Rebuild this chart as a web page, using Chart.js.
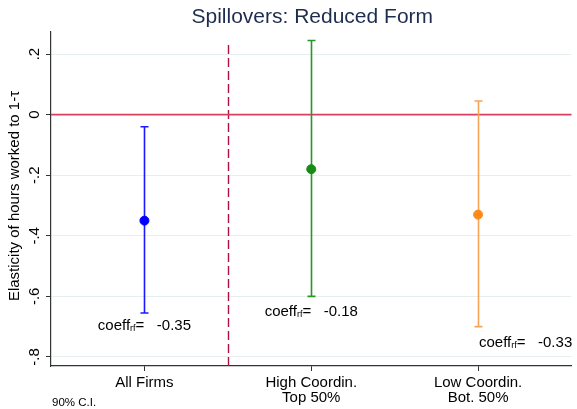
<!DOCTYPE html>
<html>
<head>
<meta charset="utf-8">
<script src="https://cdn.jsdelivr.net/npm/chart.js@4/dist/chart.umd.min.js"></script>
<style>
    body { margin: 0; background: #fff; }
    #wrap { width: 577px; height: 409px; }
</style>
</head>
<body>
<div id="wrap"><canvas id="spillChart" width="577" height="409"></canvas></div>
<script>
const categories = ["All Firms", ["High Coordin.", "Top 50%"], ["Low Coordin.", "Bot. 50%"]];
const coeffs = [-0.35, -0.18, -0.33];
const ciLow = [-0.655, -0.60, -0.70];
const ciHigh = [-0.04, 0.245, 0.045];
const yTicks = [0.2, 0, -0.2, -0.4, -0.6, -0.8];
const yTickLabels = [".2", "0", "-.2", "-.4", "-.6", "-.8"];

const markerColors = ["#0000ff", "#168c16", "#ff8a1c"];
const whiskerColors = ["#1a1aff", "#2a962a", "#f5a458"];
// where the coeff labels sit (x offset in category units, y in data units)
const labelX = [0, 0, 0.285];
const labelY = [-0.697, -0.65, -0.753];

const font = "'Liberation Sans', Arial, sans-serif";
const xs = coeffs.map((c, i) => i + 1);

const extras = {
    id: "extras",
    beforeDatasetsDraw(chart) {
        const { ctx, chartArea, scales: { x, y } } = chart;
        ctx.save();
        // dashed divider
        ctx.strokeStyle = "#b01040";
        ctx.lineWidth = 1.4;
        ctx.setLineDash([9, 4]);
        ctx.beginPath();
        ctx.moveTo(Math.round(x.getPixelForValue(1.5)) + 0.5, chartArea.top + 13);
        ctx.lineTo(Math.round(x.getPixelForValue(1.5)) + 0.5, chartArea.bottom);
        ctx.stroke();
        ctx.setLineDash([]);

        // zero line
        ctx.strokeStyle = "#d8405f";
        ctx.lineWidth = 1.6;
        ctx.beginPath();
        ctx.moveTo(chartArea.left, y.getPixelForValue(0));
        ctx.lineTo(chartArea.right, y.getPixelForValue(0));
        ctx.stroke();

        // confidence intervals
        xs.forEach((v, i) => {
            const px = Math.round(x.getPixelForValue(v)) + 0.5;
            const top = y.getPixelForValue(ciHigh[i]);
            const bot = y.getPixelForValue(ciLow[i]);
            ctx.strokeStyle = whiskerColors[i];
            ctx.lineWidth = 1.6;
            ctx.beginPath();
            ctx.moveTo(px, top);
            ctx.lineTo(px, bot);
            ctx.moveTo(px - 4, top);
            ctx.lineTo(px + 4, top);
            ctx.moveTo(px - 4, bot);
            ctx.lineTo(px + 4, bot);
            ctx.stroke();
        });
        ctx.restore();
    },
    afterDraw(chart) {
        const { ctx, chartArea, scales: { x, y } } = chart;
        ctx.save();
        ctx.fillStyle = "#000";

        // y tick labels, rotated
        ctx.font = "15px " + font;
        ctx.textAlign = "center";
        ctx.textBaseline = "middle";
        yTicks.forEach((t, i) => {
            ctx.save();
            ctx.translate(35, y.getPixelForValue(t));
            ctx.rotate(-Math.PI / 2);
            ctx.fillText(yTickLabels[i], 0, 0);
            ctx.restore();
        });

        // y axis title
        ctx.save();
        ctx.translate(15, (chartArea.top + chartArea.bottom) / 2 - 3);
        ctx.rotate(-Math.PI / 2);
        ctx.fillText("Elasticity of hours worked to 1-\u03c4", 0, 0);
        ctx.restore();

        // title
        ctx.fillStyle = "#1e2d4f";
        ctx.font = "21px " + font;
        ctx.fillText("Spillovers: Reduced Form", (chartArea.left + chartArea.right) / 2 + 1, 17);

        // coefficient labels
        ctx.fillStyle = "#000";
        ctx.textAlign = "left";
        xs.forEach((v, i) => {
            const parts = [
                ["coeff", "15px", 0],
                ["rf", "9px", 3],
                ["=   " + coeffs[i].toFixed(2), "15px", 0]
            ];
            let w = 0;
            parts.forEach(p => { ctx.font = p[1] + " " + font; w += ctx.measureText(p[0]).width; });
            let px = x.getPixelForValue(v + labelX[i]) - w / 2;
            const py = y.getPixelForValue(labelY[i]);
            parts.forEach(p => {
                ctx.font = p[1] + " " + font;
                ctx.fillText(p[0], px, py + p[2]);
                px += ctx.measureText(p[0]).width;
            });
        });

        // note
        ctx.font = "11.5px " + font;
        ctx.fillText("90% C.I.", 52, 403);
        ctx.restore();
    }
};

new Chart(document.getElementById("spillChart"), {
    type: "scatter",
    data: {
        datasets: [{
            data: xs.map((v, i) => ({ x: v, y: coeffs[i] })),
            pointBackgroundColor: markerColors,
            pointBorderColor: markerColors,
            pointRadius: 4.5,
            pointHoverRadius: 4.5
        }]
    },
    options: {
        responsive: false,
        animation: false,
        layout: { padding: { top: 32, right: 1, left: 0, bottom: 0 } },
        plugins: {
            legend: { display: false },
            tooltip: { enabled: false }
        },
        scales: {
            x: {
                min: 0.44,
                max: 3.56,
                afterBuildTicks: (axis) => { axis.ticks = xs.map(v => ({ value: v })); },
                afterFit: (axis) => { axis.height = 43; },
                ticks: {
                    callback: (v) => categories[v - 1],
                    color: "#000",
                    font: { family: font, size: 15, lineHeight: 1 },
                    padding: 4,
                    maxRotation: 0,
                    autoSkip: false
                },
                grid: { drawOnChartArea: false, tickLength: 5, tickColor: "#333" },
                border: { color: "#333", width: 1.2 }
            },
            y: {
                min: -0.83,
                max: 0.273,
                afterBuildTicks: (axis) => { axis.ticks = yTicks.map(v => ({ value: v })); },
                afterFit: (axis) => { axis.width = 51; },
                ticks: { display: false },
                grid: { color: "#e6eef1", tickLength: 5, tickColor: "#333" },
                border: { color: "#333", width: 1.2 }
            }
        }
    },
    plugins: [extras]
});
</script>
</body>
</html>
